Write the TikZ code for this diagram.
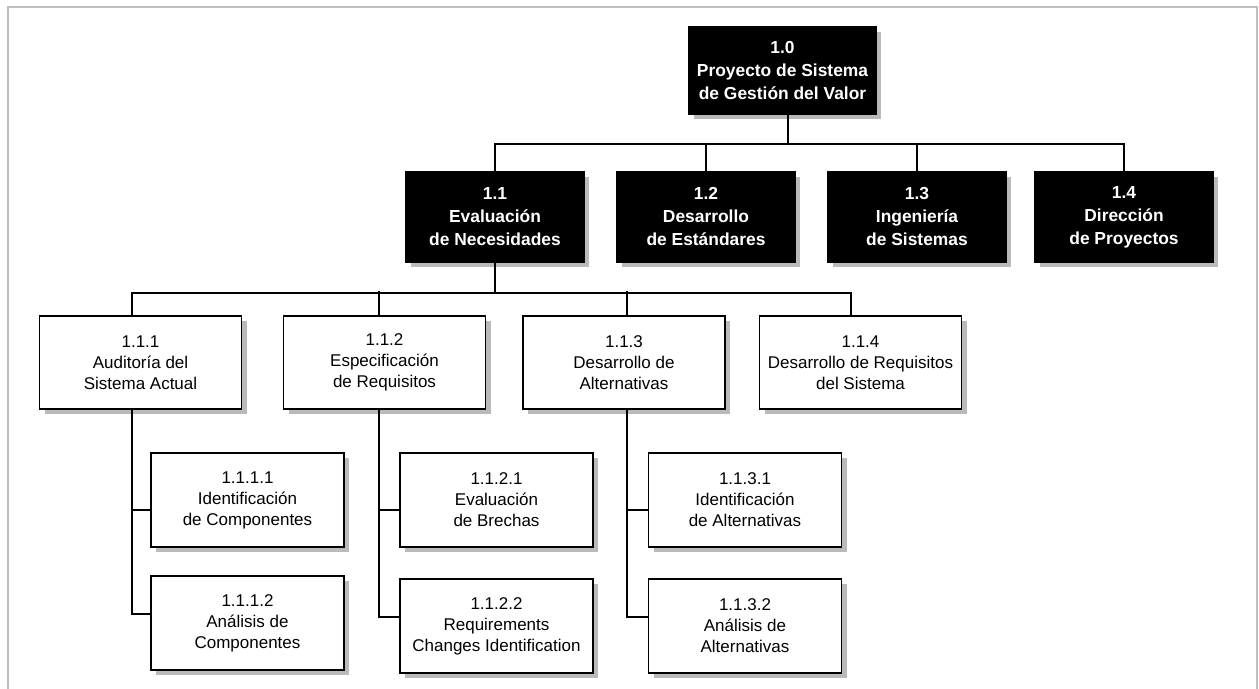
\documentclass[tikz,border=0pt]{standalone}
\usepackage{fontspec}
\setmainfont{Liberation Sans}
\usepackage{tikz}
\usetikzlibrary{shadows,calc}

\tikzset{
	boxshadow/.style={drop shadow={shadow xshift=2.5pt, shadow yshift=-2.5pt, fill=black!45, opacity=0.6}},
	headbox/.style={draw=black, fill=black, text=white, line width=0.9pt, align=center, inner sep=1pt,
		font=\fontsize{8.7}{11.5}\selectfont\bfseries, minimum width=89pt, minimum height=45pt, boxshadow},
	taskbox/.style={draw=black, fill=white, line width=0.9pt, align=center, inner sep=1pt,
		font=\fontsize{8.5}{10.5}\selectfont, minimum width=101pt, minimum height=46.5pt, boxshadow},
	leafbox/.style={taskbox, minimum width=96.5pt, minimum height=47pt},
	link/.style={draw=black, line width=1pt}
}

\begin{document}
\begin{tikzpicture}[x=0.5pt, y=-0.5pt]
	
	\useasboundingbox (0,0) rectangle (1259,689);
	\draw[black!25, line width=1pt] (8,7) rectangle (1257,720);
	
	% nivel 0 y 1
	\node[headbox, minimum width=93.5pt, minimum height=43.5pt] (n10) at (782.5,70.5) {1.0\\Proyecto de Sistema\\de Gestión del Valor};
	\node[headbox] (n11) at (495,217)  {1.1\\Evaluación\\de Necesidades};
	\node[headbox] (n12) at (706,217)  {1.2\\Desarrollo\\de Estándares};
	\node[headbox] (n13) at (917,217)  {1.3\\Ingeniería\\de Sistemas};
	\node[headbox] (n14) at (1124,217) {1.4\\Dirección\\de Proyectos};
	
	% nivel 2
	\node[taskbox] (n111) at (140.5,362.5) {1.1.1\\Auditoría del\\Sistema Actual};
	\node[taskbox] (n112) at (384.5,362.5) {1.1.2\\Especificación\\de Requisitos};
	\node[taskbox] (n113) at (624,362.5)   {1.1.3\\Desarrollo de\\Alternativas};
	\node[taskbox] (n114) at (860.5,362.5) {1.1.4\\Desarrollo de Requisitos\\del Sistema};
	
	% nivel 3
	\node[leafbox] (n1111) at (247.5,500) {1.1.1.1\\Identificación\\de Componentes};
	\node[leafbox] (n1112) at (247.5,623) {1.1.1.2\\Análisis de\\Componentes};
	\node[leafbox] (n1121) at (496.5,500) {1.1.2.1\\Evaluación\\de Brechas};
	\node[leafbox] (n1122) at (496.5,626) {1.1.2.2\\Requirements\\Changes Identification};
	\node[leafbox] (n1131) at (745,500)   {1.1.3.1\\Identificación\\de Alternativas};
	\node[leafbox] (n1132) at (745,626)   {1.1.3.2\\Análisis de\\Alternativas};
	
	\draw[link] ($(n10.south)+(5,0)$) -- ++(0,29) coordinate (bus1);
	\draw[link] (n11.north) |- (bus1) -| (n14.north);
	\draw[link] (n12.north) -- (n12.north |- bus1);
	\draw[link] (n13.north) -- (n13.north |- bus1);
	
	\draw[link] (n11.south) -- ++(0,30) coordinate (bus2);
	\draw[link] ($(n111.north)+(-9,0)$) |- (bus2) -| ($(n114.north)+(-10,0)$);
	\draw[link] ($(n112.north)+(-6,0)$) -- ++(0,-24);
	\draw[link] ($(n113.north)+(3,0)$) -- ++(0,-24);
	
	\draw[link] ($(n111.south)+(-9,0)$) |- ($(n1111.west)+(0,10)$);
	\draw[link] ($(n111.south)+(-9,0)$) |- ($(n1112.west)+(0,-9)$);
	\draw[link] ($(n112.south)+(-6,0)$) |- ($(n1121.west)+(0,10)$);
	\draw[link] ($(n112.south)+(-6,0)$) |- ($(n1122.west)+(0,-9)$);
	\draw[link] ($(n113.south)+(3,0)$) |- ($(n1131.west)+(0,10)$);
	\draw[link] ($(n113.south)+(3,0)$) |- ($(n1132.west)+(0,-9)$);

\end{tikzpicture}
\end{document}
